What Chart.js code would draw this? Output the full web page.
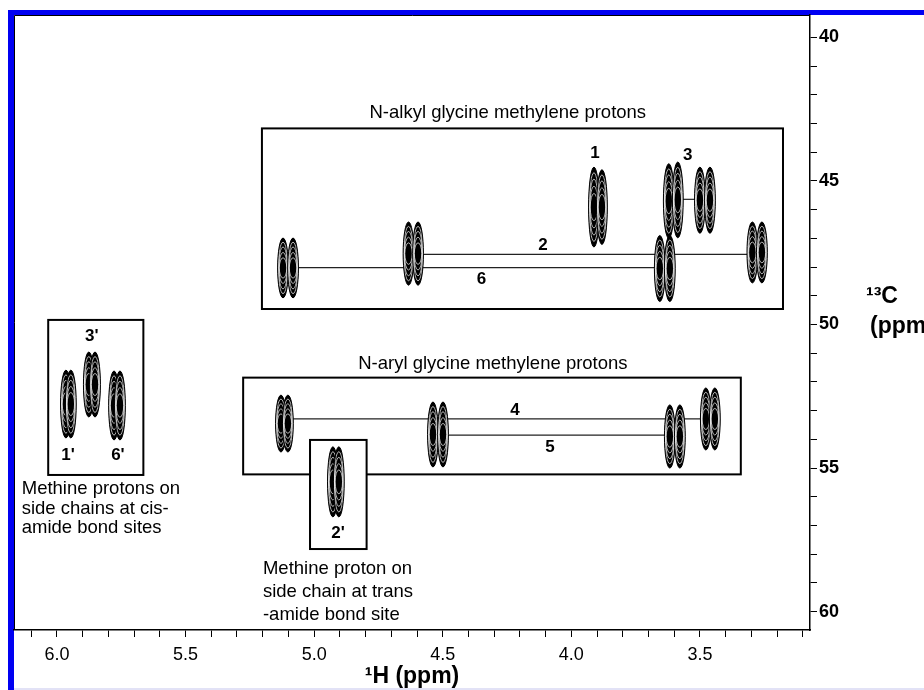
<!DOCTYPE html>
<html>
<head>
<meta charset="utf-8">
<script src="https://cdn.jsdelivr.net/npm/chart.js@4.4.1/dist/chart.umd.min.js"></script>
<style>
  html, body { margin: 0; padding: 0; background: #fff; }
  canvas { display: block; }
</style>
</head>
<body>
<canvas id="hsqc" width="924" height="690"></canvas>
<script>
// cross peak contours: 1H shift, 13C shift (ppm) and 13C half span of outer contour (ppm)
var peakH = [5.121, 5.082, 4.633, 4.596, 3.912, 3.881, 3.621, 3.586, 3.500, 3.461,
             3.656, 3.617, 3.296, 3.259, 5.129, 5.102, 4.538, 4.499, 3.617, 3.578,
             3.477, 3.442, 4.927, 4.904, 5.965, 5.946, 5.876, 5.852, 5.778, 5.755];
var peakC = [48.03, 48.03, 47.53, 47.53, 45.91, 45.91, 45.70, 45.66, 45.67, 45.67,
             48.05, 48.05, 47.49, 47.49, 53.45, 53.45, 53.83, 53.83, 53.90, 53.90,
             53.29, 53.29, 55.48, 55.48, 52.77, 52.77, 52.09, 52.09, 52.82, 52.82];
var peakSpan = [1.04, 1.04, 1.10, 1.10, 1.39, 1.30, 1.30, 1.32, 1.15, 1.15,
                1.15, 1.15, 1.06, 1.06, 0.99, 0.99, 1.13, 1.13, 1.10, 1.10,
                1.08, 1.08, 1.22, 1.22, 1.18, 1.18, 1.13, 1.13, 1.20, 1.20];

// lines joining the two methylene protons of a residue (2, 6, 3, 4, 5)
var connNames = ['2', '6', '3', '4', '5'];
var connFrom = [4.615, 5.102, 3.604, 5.115, 4.519];
var connTo = [3.278, 3.636, 3.481, 3.460, 3.598];
var connC = [47.56, 48.02, 45.64, 53.29, 53.85];

// tick labels
var hTicks = [6.0, 5.5, 5.0, 4.5, 4.0, 3.5];
var cTicks = [40, 45, 50, 55, 60];

var datasets = [];
for (var i = 0; i < connNames.length; i++) {
    datasets.push({
        type: 'line',
        label: 'conn ' + connNames[i],
        data: [{x: connFrom[i], y: connC[i]}, {x: connTo[i], y: connC[i]}],
        borderColor: '#222',
        borderWidth: 1.2,
        pointRadius: 0,
        fill: false
    });
}
datasets.push({
    label: 'peaks',
    data: peakH.map(function (h, i) { return {x: h, y: peakC[i]}; }),
    pointRadius: 0
});

function box(ctx, xs, ys, h1, h2, c1, c2, white) {
    var x1 = xs.getPixelForValue(h1), x2 = xs.getPixelForValue(h2);
    var y1 = ys.getPixelForValue(c1), y2 = ys.getPixelForValue(c2);
    if (white) {
        ctx.fillStyle = '#fff';
        ctx.fillRect(x1, y1, x2 - x1, y2 - y1);
    }
    ctx.strokeRect(x1, y1, x2 - x1, y2 - y1);
}

function label(ctx, xs, ys, txt, h, c, font, align) {
    ctx.font = font;
    ctx.textAlign = align || 'center';
    ctx.textBaseline = 'middle';
    ctx.fillText(txt, xs.getPixelForValue(h), ys.getPixelForValue(c));
}

function oval(ctx, s, fx, fy) {
    ctx.beginPath();
    ctx.ellipse(s.x, s.y, Math.max(s.rx * fx, 0.5), Math.max(s.ry * fy, 0.5), 0, 0, Math.PI * 2);
}

var decor = {
    id: 'decor',
    beforeDraw: function (chart) {
        var ctx = chart.ctx, a = chart.chartArea;
        ctx.save();
        ctx.fillStyle = '#fff';
        ctx.fillRect(0, 0, chart.width, chart.height);
        ctx.fillStyle = '#e2e2f6';
        ctx.fillRect(14, chart.height - 2, chart.width - 14, 2);
        ctx.fillStyle = '#0000f2';
        ctx.fillRect(8, 10, chart.width - 8, 5);
        ctx.fillRect(8, 10, 6, chart.height - 10);
        ctx.strokeStyle = '#000';
        ctx.lineWidth = 1;
        ctx.beginPath();
        ctx.moveTo(a.left + 0.5, a.bottom);
        ctx.lineTo(a.left + 0.5, a.top + 0.5);
        ctx.lineTo(a.right, a.top + 0.5);
        ctx.stroke();
        ctx.restore();
    },
    beforeDatasetsDraw: function (chart) {
        var ctx = chart.ctx, xs = chart.scales.x, ys = chart.scales.y;
        ctx.save();
        ctx.strokeStyle = '#000';
        ctx.lineWidth = 2;
        box(ctx, xs, ys, 5.203, 3.177, 43.17, 49.46, false);
        box(ctx, xs, ys, 5.276, 3.341, 51.85, 55.22, false);
        box(ctx, xs, ys, 6.034, 5.664, 49.84, 55.24, false);
        box(ctx, xs, ys, 5.016, 4.796, 54.02, 57.82, true);
        ctx.restore();
    },
    afterDatasetsDraw: function (chart) {
        var ctx = chart.ctx, xs = chart.scales.x, ys = chart.scales.y;
        var meta = chart.getDatasetMeta(chart.data.datasets.length - 1);
        var shapes = meta.data.map(function (el, i) {
            return {
                x: el.x, y: el.y,
                rx: Math.abs(xs.getPixelForValue(peakH[i] + 0.021) - el.x),
                ry: Math.abs(ys.getPixelForValue(peakC[i] + peakSpan[i]) - el.y)
            };
        });
        ctx.save();
        // dense contour stacks: dark body, thin white gaps between levels
        shapes.forEach(function (s) {
            ctx.fillStyle = '#000';
            oval(ctx, s, 1, 1);
            ctx.fill();
            ctx.strokeStyle = '#fff';
            ctx.lineWidth = 0.7;
            [0.86, 0.7, 0.52, 0.34].forEach(function (f) {
                oval(ctx, s, 0.55 + 0.4 * f, f);
                ctx.stroke();
            });
            ctx.strokeStyle = '#000';
            ctx.lineWidth = 1;
            oval(ctx, s, 1, 1);
            ctx.stroke();
        });

        ctx.fillStyle = '#000';
        var reg = '18.5px "Liberation Sans", Arial, sans-serif';
        var bold = 'bold 17px "Liberation Sans", Arial, sans-serif';
        label(ctx, xs, ys, 'N-alkyl glycine methylene protons', 4.247, 42.64, reg);
        label(ctx, xs, ys, 'N-aryl glycine methylene protons', 4.305, 51.37, reg);
        label(ctx, xs, ys, '1', 3.908, 44.03, bold);
        label(ctx, xs, ys, '3', 3.547, 44.10, bold);
        label(ctx, xs, ys, '2', 4.110, 47.23, bold);
        label(ctx, xs, ys, '6', 4.349, 48.43, bold);
        label(ctx, xs, ys, '4', 4.219, 52.98, bold);
        label(ctx, xs, ys, '5', 4.083, 54.26, bold);
        label(ctx, xs, ys, "3'", 5.865, 50.42, bold);
        label(ctx, xs, ys, "1'", 5.957, 54.54, bold);
        label(ctx, xs, ys, "6'", 5.763, 54.54, bold);
        label(ctx, xs, ys, "2'", 4.907, 57.26, bold);
        label(ctx, xs, ys, 'Methine protons on', 6.137, 55.74, reg, 'left');
        label(ctx, xs, ys, 'side chains at cis-', 6.137, 56.41, reg, 'left');
        label(ctx, xs, ys, 'amide bond sites', 6.137, 57.10, reg, 'left');
        label(ctx, xs, ys, 'Methine proton on', 5.199, 58.51, reg, 'left');
        label(ctx, xs, ys, 'side chain at trans', 5.199, 59.31, reg, 'left');
        label(ctx, xs, ys, '-amide bond site', 5.199, 60.11, reg, 'left');

        // 13C axis title, beside the right axis
        ctx.font = 'bold 23px "Liberation Sans", Arial, sans-serif';
        ctx.textAlign = 'left';
        ctx.textBaseline = 'middle';
        ctx.fillText('\u00B9\u00B3C', ys.left + 56, ys.getPixelForValue(49.04));
        ctx.fillText('(ppm)', ys.left + 60, ys.getPixelForValue(50.09));
        ctx.restore();
    }
};

new Chart(document.getElementById('hsqc'), {
    type: 'scatter',
    data: { datasets: datasets },
    options: {
        responsive: false,
        animation: false,
        devicePixelRatio: 1,
        layout: { padding: { left: 14, top: 15, right: 0, bottom: 0 } },
        plugins: { legend: { display: false }, tooltip: { enabled: false } },
        scales: {
            x: {
                type: 'linear',
                position: 'bottom',
                reverse: true,
                min: 3.072,
                max: 6.167,
                afterFit: function (s) { s.height = 60; },
                border: { color: '#000', width: 1.5 },
                grid: { drawOnChartArea: false, tickLength: 7, tickColor: '#000', tickWidth: 1 },
                ticks: {
                    stepSize: 0.1,
                    includeBounds: false,
                    autoSkip: false,
                    maxRotation: 0,
                    padding: 7,
                    color: '#000',
                    font: { family: '"Liberation Sans", Arial, sans-serif', size: 18 },
                    callback: function (v) {
                        var hit = hTicks.some(function (t) { return Math.abs(t - v) < 1e-6; });
                        return hit ? v.toFixed(1) : '';
                    }
                },
                title: {
                    display: true,
                    text: '\u00B9H (ppm)',
                    color: '#000',
                    padding: { top: 0, bottom: 0 },
                    font: { family: '"Liberation Sans", Arial, sans-serif', size: 23, weight: 'bold' }
                }
            },
            y: {
                type: 'linear',
                position: 'right',
                reverse: true,
                min: 39.22,
                max: 60.64,
                afterFit: function (s) { s.width = 114; },
                border: { color: '#000', width: 1.5 },
                grid: { drawOnChartArea: false, tickLength: 7, tickColor: '#000', tickWidth: 1 },
                ticks: {
                    stepSize: 1,
                    includeBounds: false,
                    autoSkip: false,
                    padding: 2,
                    color: '#000',
                    font: { family: '"Liberation Sans", Arial, sans-serif', size: 18, weight: 'bold' },
                    callback: function (v) {
                        return cTicks.indexOf(v) >= 0 ? String(v) : '';
                    }
                }
            }
        }
    },
    plugins: [decor]
});
</script>
</body>
</html>
